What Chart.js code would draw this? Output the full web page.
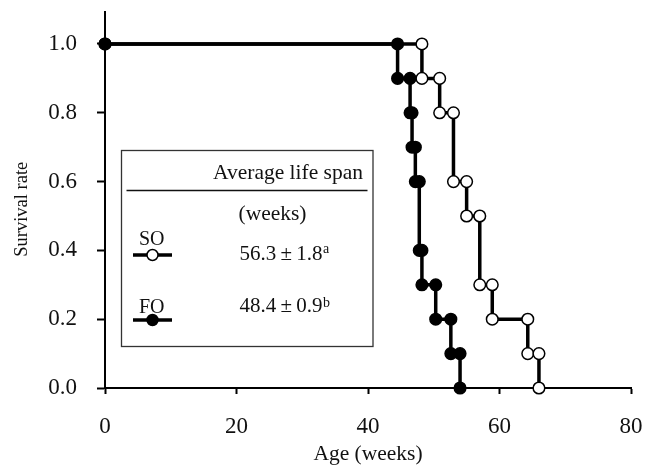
<!DOCTYPE html>
<html>
<head>
<meta charset="utf-8">
<script src="https://cdn.jsdelivr.net/npm/chart.js@4"></script>
<style>
  html, body { margin: 0; padding: 0; background: #fff; }
</style>
</head>
<body>
<canvas id="myChart" width="659" height="466"></canvas>
<script>
// week of each death and survival rate right after it
const foWeeks = [44.5, 46.4, 46.7, 47.2, 47.8, 48.2, 50.3, 52.6, 54.0];
const foSurvival = [0.9, 0.8, 0.7, 0.6, 0.4, 0.3, 0.2, 0.1, 0.0];
const soWeeks = [48.2, 50.9, 53.0, 55.0, 57.0, 58.9, 64.3, 66.0];
const soSurvival = [0.9, 0.8, 0.6, 0.5, 0.3, 0.2, 0.1, 0.0];

const xTicks = [0, 20, 40, 60, 80];
const yTicks = [0, 0.2, 0.4, 0.6, 0.8, 1.0];

const groups = ['SO', 'FO'];
const lifeSpans = ['56.3\u2009±\u20091.8', '48.4\u2009±\u20090.9'];
const lifeSpanSup = ['a', 'b'];

const serif = "'Liberation Serif', 'Times New Roman', serif";

// corners of the Kaplan-Meier step line
function stepPoints(weeks, surv) {
  const pts = [{ x: 0, y: 1 }];
  let prev = 1;
  weeks.forEach((w, i) => {
    pts.push({ x: w, y: prev });
    pts.push({ x: w, y: surv[i] });
    prev = surv[i];
  });
  return pts;
}

function drawMarker(ctx, x, y, filled) {
  ctx.beginPath();
  ctx.arc(x, y, 5.5, 0, Math.PI * 2);
  ctx.fillStyle = filled ? '#000' : '#fff';
  ctx.fill();
  ctx.lineWidth = 1.5;
  ctx.strokeStyle = '#000';
  ctx.stroke();
}

// the boxed table with average life span
const lifeSpanBox = {
  id: 'lifeSpanBox',
  afterDatasetsDraw(chart) {
    const ctx = chart.ctx;
    ctx.save();
    ctx.strokeStyle = '#333';
    ctx.lineWidth = 1.3;
    ctx.strokeRect(121.5, 150.5, 251.5, 196);

    ctx.beginPath();
    ctx.moveTo(126.5, 190.5);
    ctx.lineTo(367.5, 190.5);
    ctx.lineWidth = 1.5;
    ctx.strokeStyle = '#111';
    ctx.stroke();

    ctx.fillStyle = '#111';
    ctx.textBaseline = 'alphabetic';
    ctx.font = '21.5px ' + serif;
    ctx.textAlign = 'left';
    ctx.fillText('Average life span', 213, 179);
    ctx.textAlign = 'center';
    ctx.fillText('(weeks)', 272.5, 220);

    const rows = [
      { label: 245, line: 255, value: 260, sup: 253 },
      { label: 313, line: 320, value: 311.7, sup: 306.5 }
    ];
    groups.forEach((g, i) => {
      const r = rows[i];
      ctx.fillStyle = '#111';
      ctx.textAlign = 'center';
      ctx.font = '20px ' + serif;
      ctx.fillText(g, 151.7, r.label);

      ctx.beginPath();
      ctx.moveTo(133, r.line);
      ctx.lineTo(172, r.line);
      ctx.lineWidth = 3.5;
      ctx.strokeStyle = '#000';
      ctx.stroke();
      drawMarker(ctx, 152.5, r.line, g === 'FO');

      ctx.fillStyle = '#111';
      ctx.textAlign = 'left';
      ctx.font = '21px ' + serif;
      ctx.fillText(lifeSpans[i], 239.5, r.value);
      const w = ctx.measureText(lifeSpans[i]).width;
      ctx.font = '14px ' + serif;
      ctx.fillText(lifeSpanSup[i], 239.5 + w + 0.5, r.sup);
    });
    ctx.restore();
  }
};

new Chart(document.getElementById('myChart'), {
  type: 'scatter',
  data: {
    datasets: [
      {
        label: 'FO',
        data: stepPoints(foWeeks, foSurvival),
        showLine: true,
        borderColor: '#000',
        borderWidth: 3.5,
        pointRadius: 5.8,
        pointBackgroundColor: '#000',
        pointBorderColor: '#000',
        pointBorderWidth: 1.5,
        clip: false
      },
      {
        label: 'SO',
        data: stepPoints(soWeeks, soSurvival),
        showLine: true,
        borderColor: '#000',
        borderWidth: 3.5,
        pointRadius: 5.8,
        pointBackgroundColor: '#fff',
        pointBorderColor: '#000',
        pointBorderWidth: 1.5,
        clip: false
      }
    ]
  },
  options: {
    responsive: false,
    animation: false,
    layout: { padding: { top: 12, right: 28, bottom: 0, left: 0 } },
    plugins: {
      legend: { display: false },
      tooltip: { enabled: false }
    },
    scales: {
      x: {
        type: 'linear',
        min: 0,
        max: 80,
        afterBuildTicks: s => { s.ticks = xTicks.map(v => ({ value: v })); },
        afterFit: s => { s.height = 78; s.paddingLeft = 0; s.paddingRight = 0; },
        ticks: {
          color: '#111',
          padding: 21,
          font: { family: serif, size: 23, lineHeight: 1 }
        },
        grid: { drawOnChartArea: false, drawTicks: true, tickLength: 6, tickWidth: 2, tickColor: '#000' },
        border: { color: '#000', width: 2 },
        title: {
          display: true,
          text: 'Age (weeks)',
          color: '#111',
          font: { family: serif, size: 21.5, lineHeight: 1 },
          padding: { top: 0, bottom: 1 }
        }
      },
      y: {
        min: 0,
        max: 1.093,
        afterBuildTicks: s => { s.ticks = yTicks.map(v => ({ value: v })); },
        afterFit: s => { s.width = 105; s.paddingTop = 0; s.paddingBottom = 0; },
        ticks: {
          color: '#111',
          padding: 20,
          font: { family: serif, size: 23, lineHeight: 1 },
          callback: v => v.toFixed(1)
        },
        grid: { drawOnChartArea: false, drawTicks: true, tickLength: 8, tickWidth: 2, tickColor: '#000' },
        border: { color: '#000', width: 2 },
        title: {
          display: true,
          text: 'Survival rate\u00a0\u00a0\u00a0\u00a0',
          color: '#111',
          font: { family: serif, size: 18.5, lineHeight: 1 },
          padding: { top: 13, bottom: 0 }
        }
      }
    }
  },
  plugins: [lifeSpanBox]
});
</script>
</body>
</html>
